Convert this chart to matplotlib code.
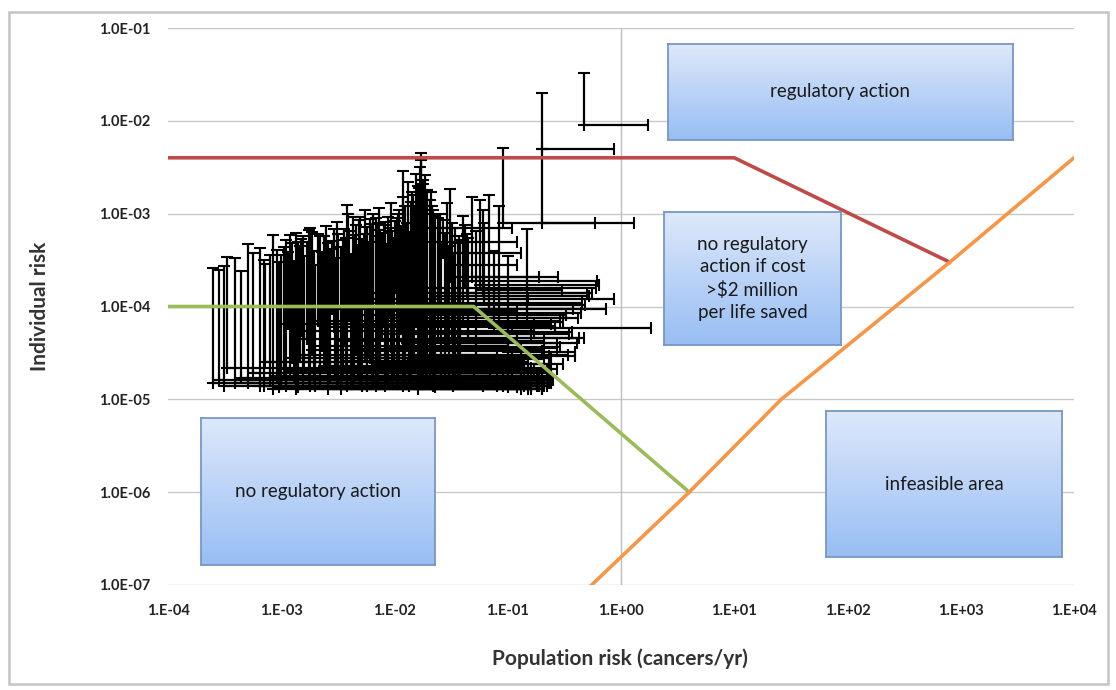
import numpy as np
import matplotlib
matplotlib.use("Agg")
import matplotlib.pyplot as plt
from matplotlib.colors import LinearSegmentedColormap
from matplotlib.patches import Rectangle
from matplotlib.ticker import NullLocator

plt.rcParams['font.family'] = ['Lato', 'DejaVu Sans']

# facilities: lower-left corner (pop_lo, ind_lo) with upper bounds (pop_hi, ind_hi)
pop_lo = [2.5e-4, 2.8e-4, 3.1e-4, 3.3e-4, 3.9e-4, 4.4e-4, 5.1e-4, 5.6e-4, 6.5e-4, 7.2e-4,
          8.0e-4, 8.5e-4, 9.2e-4,
          1.0e-3, 1.1e-3, 1.2e-3, 1.35e-3, 1.45e-3, 1.56e-3, 1.7e-3, 1.8e-3, 1.95e-3, 2.2e-3,
          2.4e-3, 2.6e-3, 2.9e-3, 3.2e-3, 3.5e-3, 3.8e-3, 4.0e-3, 4.3e-3, 4.6e-3, 5.0e-3,
          5.4e-3, 5.7e-3, 6.1e-3, 6.5e-3, 7.2e-3, 7.8e-3, 8.3e-3, 9.0e-3, 9.5e-3,
          0.0105, 0.011, 0.012, 0.0128, 0.0139, 0.015, 0.016, 0.017, 0.0172, 0.018,
          0.019, 0.021, 0.022, 0.024, 0.027, 0.029, 0.031, 0.034, 0.037, 0.04,
          0.044, 0.048, 0.052, 0.057, 0.062, 0.068, 0.075, 0.083, 0.09, 0.1,
          0.148, 0.2, 0.2, 0.47,
          1.3e-3, 1.6e-3, 2.0e-3, 2.3e-3, 2.7e-3, 3.0e-3, 3.4e-3, 3.7e-3, 4.1e-3, 4.8e-3,
          5.2e-3, 5.9e-3, 6.8e-3, 7.5e-3, 8.6e-3, 9.8e-3, 0.0115, 0.0135, 0.0145, 0.0165,
          0.0185, 0.0205, 0.023, 0.026, 0.03, 0.033, 0.038, 0.045, 0.06, 7.0e-4, 9.6e-4,
          1.25e-3, 1.5e-3, 1.75e-3, 2.1e-3, 2.5e-3, 2.8e-3, 3.1e-3, 3.6e-3, 3.9e-3, 4.4e-3,
          4.9e-3, 5.5e-3, 6.3e-3, 6.9e-3, 7.3e-3, 8.0e-3, 8.8e-3, 9.3e-3, 0.0102, 0.0108,
          0.0118, 0.0125, 0.0132, 0.0142, 0.0155, 0.0168, 0.0178, 0.0195, 0.0215, 0.025,
          0.028, 0.032, 0.036, 0.042, 1.05e-3, 1.15e-3, 1.4e-3, 1.85e-3]
pop_hi = [0.03, 0.05, 0.06, 0.04, 0.08, 0.05, 0.1, 0.07, 0.12, 0.06,
          0.09, 0.15, 0.11,
          0.13, 0.2, 0.1, 0.16, 0.08, 0.23, 0.12, 0.18, 0.09, 0.25,
          0.14, 0.2, 0.11, 0.2, 0.17, 0.22, 0.12, 0.22, 0.1, 0.22,
          0.15, 0.19, 0.24, 0.13, 0.24, 0.16, 0.21, 0.12, 0.18,
          0.18, 0.23, 0.14, 0.27, 0.2, 0.39, 0.2, 0.11, 0.2, 0.15,
          0.21, 0.12, 0.16, 0.47, 0.13, 0.41, 0.19, 0.23, 0.12, 0.33,
          0.55, 0.28, 0.23, 0.64, 0.87, 0.73, 1.85, 0.26, 0.59, 0.39,
          0.33, 0.87, 1.3, 1.74,
          0.07, 0.15, 0.19, 0.1, 0.22, 0.08, 0.13, 0.14, 0.18, 0.27,
          0.09, 0.2, 0.16, 0.31, 0.1, 0.24, 0.17, 0.19, 0.21, 0.24,
          0.13, 0.23, 0.16, 0.2, 0.14, 0.19, 0.17, 0.43, 0.3, 0.08, 0.12,
          0.11, 0.17, 0.13, 0.29, 0.16, 0.38, 0.12, 0.21, 0.45, 0.15,
          0.26, 0.34, 0.19, 0.5, 0.14, 0.42, 0.22, 0.29, 0.6, 0.2,
          0.37, 0.16, 0.48, 0.24, 0.31, 0.18, 0.44, 0.22, 0.27, 0.52,
          0.2, 0.35, 0.16, 0.62, 0.09, 0.24, 0.1, 0.21]
ind_lo = [1.5e-5, 1.6e-5, 1.4e-5, 2.2e-5, 1.5e-5, 1.7e-5, 1.5e-5, 1.9e-5, 1.4e-5, 2.5e-5,
          1.6e-5, 1.3e-5, 1.8e-5,
          1.5e-5, 1.4e-5, 2.0e-5, 1.3e-5, 3.0e-5, 1.5e-5, 4.5e-5, 1.4e-5, 1.7e-5, 1.6e-5,
          2.3e-5, 1.3e-5, 6.0e-5, 1.5e-5, 1.9e-5, 1.4e-5, 8.0e-5, 1.6e-5, 3.5e-5, 1.5e-5,
          1.2e-4, 1.4e-5, 2.8e-5, 1.6e-5, 1.5e-5, 5.0e-5, 1.4e-5, 9.0e-5, 1.6e-5,
          1.5e-5, 2.2e-5, 1.4e-5, 4.0e-5, 1.5e-5, 2.9e-5, 1.3e-5, 7.0e-4, 1.6e-5, 1.8e-5,
          1.5e-5, 4.9e-4, 1.4e-5, 4.6e-5, 3.8e-4, 4.0e-5, 2.1e-4, 1.8e-5, 2.8e-4, 8.0e-5,
          1.4e-4, 2.1e-4, 2.9e-5, 1.7e-4, 1.2e-4, 9.3e-5, 5.8e-5, 5.9e-5, 8.0e-4, 3.2e-5,
          8.0e-5, 5.0e-3, 8.0e-4, 9.1e-3,
          1.8e-5, 2.5e-5, 1.4e-5, 3.8e-5, 1.7e-5, 2.0e-5, 1.3e-5, 2.6e-5, 1.5e-5, 2.1e-5,
          1.4e-5, 3.3e-5, 1.4e-5, 2.4e-5, 1.5e-5, 1.9e-5, 6.5e-5, 1.4e-5, 2.7e-5, 1.5e-5,
          3.4e-5, 1.6e-5, 1.35e-5, 1.5e-5, 1.7e-5, 1.4e-5, 2.0e-5, 4.6e-5, 1.5e-4, 1.4e-5, 1.35e-5,
          2.8e-5, 5.5e-5, 1.6e-5, 7.0e-5, 2.2e-5, 9.5e-5, 1.5e-5, 4.2e-5, 1.1e-4, 1.8e-5,
          6.2e-5, 3.0e-5, 1.7e-5, 1.4e-4, 2.2e-5, 7.5e-5, 1.5e-5, 3.7e-5, 1.6e-4, 1.8e-5,
          5.3e-5, 1.6e-5, 1.05e-4, 2.4e-5, 6.8e-5, 1.5e-5, 8.5e-5, 2.0e-5, 3.6e-5, 1.3e-4,
          1.6e-5, 5.0e-5, 1.5e-5, 1.9e-4, 2.1e-5, 6.5e-5, 1.35e-5, 3.4e-5]
ind_hi = [2.6e-4, 2.5e-4, 2.7e-4, 3.4e-4, 3.3e-4, 2.4e-4, 4.7e-4, 3.8e-4, 4.3e-4, 2.9e-4,
          3.6e-4, 5.9e-4, 4.1e-4,
          3.6e-4, 5.2e-4, 5.9e-4, 6.2e-4, 4.5e-4, 5.7e-4, 5.0e-4, 7.0e-4, 4.0e-4, 5.7e-4,
          5.8e-4, 4.8e-4, 6.9e-4, 6.1e-4, 5.2e-4, 1.25e-3, 6.5e-4, 9.3e-4, 7.5e-4, 9.3e-4,
          6.0e-4, 7.2e-4, 8.8e-4, 1.0e-3, 8.0e-4, 6.2e-4, 8.2e-4, 7.0e-4, 6.5e-4,
          9.0e-4, 1.1e-3, 2.9e-3, 8.0e-4, 1.35e-3, 1.2e-3, 2.0e-3, 4.5e-3, 3.8e-3, 2.3e-3,
          1.0e-3, 1.7e-3, 1.1e-3, 9.0e-4, 8.5e-4, 1.3e-3, 1.85e-3, 7.0e-4, 5.7e-4, 9.5e-4,
          6.0e-4, 1.5e-3, 6.5e-4, 1.4e-3, 8.0e-4, 1.6e-3, 4.0e-4, 1.2e-3, 5.1e-3, 3.5e-4,
          6.9e-4, 2.0e-2, 5.0e-3, 3.3e-2,
          3.1e-4, 3.5e-4, 2.8e-4, 3.9e-4, 4.2e-4, 3.3e-4, 4.4e-4, 5.5e-4, 3.7e-4, 4.6e-4,
          5.3e-4, 4.9e-4, 5.8e-4, 6.6e-4, 4.7e-4, 5.5e-4, 7.4e-4, 6.3e-4, 1.6e-3, 1.9e-3,
          2.6e-3, 1.4e-3, 9.5e-4, 5.0e-4, 4.5e-4, 3.8e-4, 5.2e-4, 5.5e-4, 1.1e-3, 3.2e-4, 3.0e-4,
          4.8e-4, 5.4e-4, 6.6e-4, 6.0e-4, 7.3e-4, 5.1e-4, 8.2e-4, 6.8e-4, 9.8e-4, 5.9e-4,
          8.6e-4, 1.1e-3, 7.8e-4, 9.0e-4, 1.15e-3, 7.6e-4, 9.2e-4, 1.3e-3, 8.4e-4, 1.0e-3,
          1.5e-3, 1.2e-3, 2.2e-3, 1.7e-3, 2.7e-3, 3.2e-3, 2.1e-3, 1.8e-3, 1.2e-3, 1.0e-3,
          6.2e-4, 8.0e-4, 4.8e-4, 7.5e-4, 4.4e-4, 3.9e-4, 5.0e-4, 6.4e-4]

# decision boundaries
red_x = [1e-4, 10, 800]
red_y = [4e-3, 4e-3, 3e-4]
green_x = [1e-4, 0.05, 4]
green_y = [1e-4, 1e-4, 1e-6]
orange_x = [0.55, 4, 26, 800, 1e4]
orange_y = [1e-7, 1e-6, 1e-5, 3e-4, 4e-3]

x_ticks = [1e-4, 1e-3, 1e-2, 1e-1, 1e0, 1e1, 1e2, 1e3, 1e4]
x_labels = ['1.E-04', '1.E-03', '1.E-02', '1.E-01', '1.E+00', '1.E+01', '1.E+02', '1.E+03', '1.E+04']
y_ticks = [1e-7, 1e-6, 1e-5, 1e-4, 1e-3, 1e-2, 1e-1]
y_labels = ['1.0E-07', '1.0E-06', '1.0E-05', '1.0E-04', '1.0E-03', '1.0E-02', '1.0E-01']

W, H = 1116, 690
fig = plt.figure(figsize=(W / 100, H / 100), dpi=100)
fig.patches.append(Rectangle((9 / W, 1 - 684 / H), 1099 / W, 672 / H, transform=fig.transFigure,
                             fill=False, edgecolor='#C4C4C4', lw=1.8))

ax = fig.add_axes([168 / W, 1 - 585 / H, (1074 - 168) / W, (585 - 28) / H])
ax.set_xscale('log')
ax.set_yscale('log')
ax.set_xlim(1e-4, 1e4)
ax.set_ylim(1e-7, 1e-1)

pop_lo_a = np.array(pop_lo)
ind_lo_a = np.array(ind_lo)
xerr = [np.zeros(len(pop_lo)), np.array(pop_hi) - pop_lo_a]
yerr = [np.zeros(len(ind_lo)), np.array(ind_hi) - ind_lo_a]
ax.errorbar(pop_lo_a, ind_lo_a, xerr=xerr, yerr=yerr, fmt='none', ecolor='black',
            elinewidth=1.6, capsize=4, capthick=1.5, zorder=3)

ax.plot(red_x, red_y, color='#BE4B48', lw=2.6, zorder=4)
ax.plot(green_x, green_y, color='#9BBB59', lw=2.6, zorder=4)
ax.plot(orange_x, orange_y, color='#F79646', lw=2.6, zorder=4)

ax.set_xticks(x_ticks)
ax.set_xticklabels(x_labels)
ax.set_yticks(y_ticks)
ax.set_yticklabels(y_labels)
ax.xaxis.set_minor_locator(NullLocator())
ax.yaxis.set_minor_locator(NullLocator())
ax.tick_params(axis='x', length=0, pad=14, labelsize=10.5, labelcolor='#222222')
ax.tick_params(axis='y', length=0, pad=13, labelsize=10.5, labelcolor='#222222')
for lab in ax.get_xticklabels() + ax.get_yticklabels():
    lab.set_fontweight('bold')
for s in ax.spines.values():
    s.set_visible(False)
ax.grid(axis='y', color='#C8C8C8', lw=1)
ax.axvline(1, color='#BDBDBD', lw=1)
ax.set_axisbelow(True)

ax.set_xlabel('Population risk (cancers/yr)', fontsize=15, fontweight='bold', color='#333333')
ax.set_ylabel('Individual risk', fontsize=15, fontweight='bold', color='#333333')
ax.xaxis.set_label_coords(0.499, -0.113)
ax.yaxis.set_label_coords(-0.13, 0.5)

# blue callout boxes
grad = LinearSegmentedColormap.from_list('boxgrad', ['#DDE8FA', '#98BEF4'])
def add_box(x0, y0, x1, y1, text):
    bx = fig.add_axes([x0 / W, 1 - y1 / H, (x1 - x0) / W, (y1 - y0) / H])
    bx.imshow(np.linspace(0, 1, 100).reshape(-1, 1), cmap=grad, aspect='auto',
              extent=[0, 1, 0, 1], origin='upper')
    bx.set_xticks([])
    bx.set_yticks([])
    for s in bx.spines.values():
        s.set_color('#7896C4')
        s.set_linewidth(1.3)
    bx.text(0.5, 0.5, text, ha='center', va='center', fontsize=13.5, color='#1A1A1A',
            linespacing=1.35, transform=bx.transAxes)

add_box(668, 44, 1013, 140, 'regulatory action')
add_box(664, 212, 841, 345, 'no regulatory\naction if cost\n>\\$2 million\nper life saved')
add_box(201, 418, 435, 565, 'no regulatory action')
add_box(826, 411, 1062, 557, 'infeasible area')

fig.savefig('out.png', dpi=100)
